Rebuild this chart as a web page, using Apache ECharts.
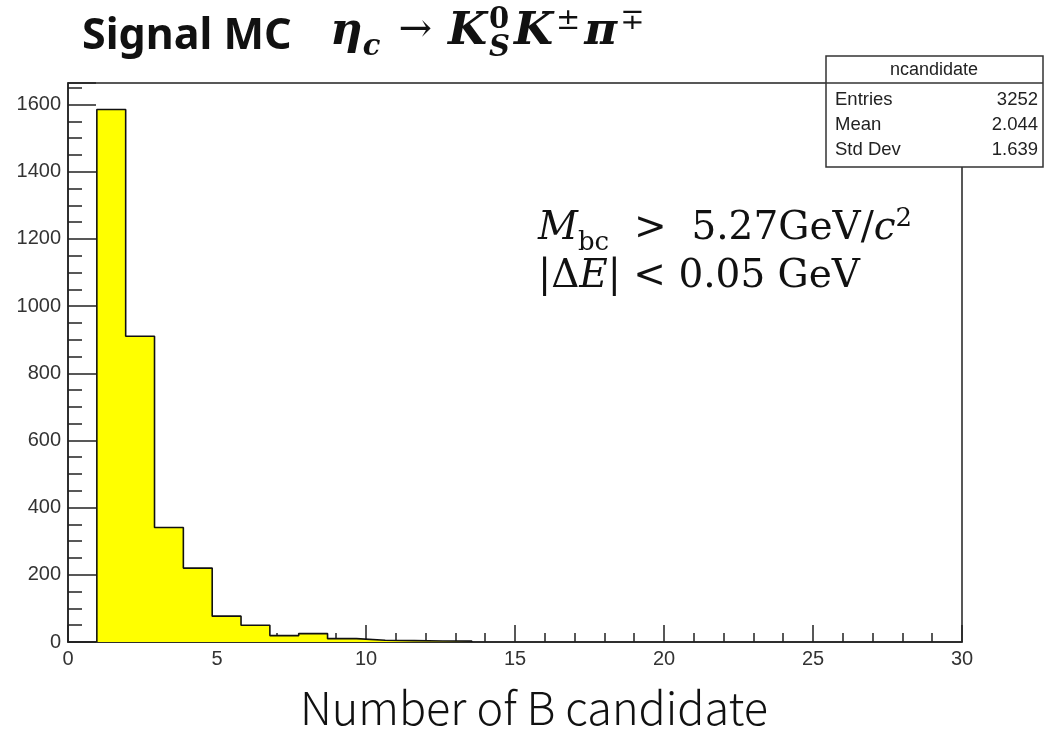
<!DOCTYPE html>
<html>
<head>
<meta charset="utf-8">
<script src="https://cdn.jsdelivr.net/npm/echarts@6/dist/echarts.min.js"></script>
<style>html,body{margin:0;padding:0;background:#fff}#c{width:1045px;height:731px}</style>
</head>
<body>
<div id="c"></div>
<script>
// ---- data ----
const xRange = [0, 30];
const nBins = 31;                         // histogram bins over xRange
const binIndex = [1, 2, 3, 4, 5, 6, 7, 8, 9, 10, 11, 12, 13];
const counts   = [1585, 910, 341, 220, 77, 50, 19, 25, 10, 5, 4, 3, 3];
const xTicks = [0, 5, 10, 15, 20, 25, 30];
const yTicks = [0, 200, 400, 600, 800, 1000, 1200, 1400, 1600];
const yMax = 1664;
const statsTitle = 'ncandidate';
const statsNames = ['Entries', 'Mean', 'Std Dev'];
const statsValues = ['3252', '2.044', '1.639'];

// ---- build step outline from bins ----
const binW = (xRange[1] - xRange[0]) / nBins;
const pts = [];
binIndex.forEach((b, i) => {
  const lo = xRange[0] + b * binW, hi = lo + binW;
  if (i === 0) pts.push([lo, 0]);
  pts.push([lo, counts[i]]);
  pts.push([hi, counts[i]]);
  if (i === binIndex.length - 1) pts.push([hi, 0]);
});

// ---- text layout helper (sequential pieces on a baseline) ----
const mctx = document.createElement('canvas').getContext('2d');
function layoutPieces(x0, baseY, pieces) {
  const out = [];
  let x = x0;
  pieces.forEach(p => {
    const items = Array.isArray(p) ? p : [p];
    let adv = 0;
    items.forEach(it => {
      mctx.font = it.font;
      const w = mctx.measureText(it.t).width;
      adv = Math.max(adv, w + (it.gap || 0) + (it.dx || 0));
      out.push({type: 'text', z: 102, x: x + (it.dx || 0), y: baseY + (it.dy || 0),
        style: {text: it.t, font: it.font, fill: '#111', align: 'left', verticalAlign: 'bottom'}});
    });
    x += adv;
  });
  return out;
}

const TSER = '"DejaVu Serif"';
const CUT = '"DejaVu Serif"';
const titleEls = layoutPieces(330, 55, [
  {t: 'η', font: 'bold italic 45px ' + TSER},
  {t: 'c', font: 'bold italic 29px ' + TSER, dy: 7, gap: 6},
  {t: '→', font: '40px ' + TSER, dy: -4, dx: 12, gap: 16},
  {t: 'K', font: 'bold italic 45px ' + TSER, gap: 2},
  [{t: '0', font: 'bold 29px ' + TSER, dy: -20, gap: 4}, {t: 'S', font: 'bold italic 29px ' + TSER, dy: 8, gap: 4}],
  {t: 'K', font: 'bold italic 45px ' + TSER, gap: 3},
  {t: '±', font: '29px ' + TSER, dy: -19, gap: 4},
  {t: 'π', font: 'bold italic 45px ' + TSER, gap: 3},
  {t: '∓', font: '29px ' + TSER, dy: -19}
]);
const cut1 = layoutPieces(538, 248, [
  {t: 'M', font: 'italic 39px ' + CUT},
  {t: 'bc', font: '26px ' + CUT, dy: 8},
  {t: '  >  5.27GeV/', font: '39px ' + CUT},
  {t: 'c', font: 'italic 39px ' + CUT},
  {t: '2', font: '26px ' + CUT, dy: -16}
]);
const cut2 = layoutPieces(538, 296, [
  {t: '|Δ', font: '39px ' + CUT},
  {t: 'E', font: 'italic 39px ' + CUT},
  {t: '| < 0.05 GeV', font: '39px ' + CUT}
]);

const chart = echarts.init(document.getElementById('c'), null, {renderer: 'canvas'});
const axisFont = {fontFamily: 'Liberation Sans', fontSize: 20, color: '#333'};
const G = {left: 68, right: 83, top: 83, bottom: 89};

chart.setOption({
  animation: false,
  grid: Object.assign({show: true, borderColor: '#222', borderWidth: 1.5, backgroundColor: '#fff'}, G),
  xAxis: {
    type: 'value', min: xRange[0], max: xRange[1], interval: 5,
    axisLine: {lineStyle: {color: '#222', width: 1.5}},
    axisTick: {inside: true, length: 17, lineStyle: {color: '#222', width: 1.5}},
    minorTick: {show: true, splitNumber: 5, length: 9, lineStyle: {color: '#222', width: 1.5}},
    splitLine: {show: false},
    axisLabel: Object.assign({margin: 7, formatter: v => xTicks.includes(v) ? String(v) : ''}, axisFont)
  },
  yAxis: {
    type: 'value', min: 0, max: yMax, interval: 200,
    axisLine: {lineStyle: {color: '#222', width: 1.5}},
    axisTick: {inside: true, length: 28, lineStyle: {color: '#222', width: 1.5}},
    minorTick: {show: true, splitNumber: 4, length: 14, lineStyle: {color: '#222', width: 1.5}},
    splitLine: {show: false},
    axisLabel: Object.assign({margin: 7, formatter: v => yTicks.includes(v) ? String(v) : ''}, axisFont)
  },
  series: [{
    type: 'line', data: pts, symbol: 'none', z: 3,
    lineStyle: {color: '#111', width: 1.6},
    areaStyle: {color: '#ffff00', opacity: 1, origin: 'start'}
  }],
  graphic: [
    // stats box
    {type: 'rect', z: 100, shape: {x: 826, y: 56, width: 217, height: 111},
     style: {fill: '#fff', stroke: '#333', lineWidth: 1.5}},
    {type: 'line', z: 101, shape: {x1: 826, y1: 83, x2: 1043, y2: 83}, style: {stroke: '#333', lineWidth: 1.5}},
    {type: 'text', z: 102, x: 934, y: 70, style: {text: statsTitle, fill: '#222', font: '18px "Liberation Sans"', align: 'center', verticalAlign: 'middle'}},
    ...statsNames.map((n, i) => ({type: 'text', z: 102, x: 835, y: 100 + i * 25,
      style: {text: n, fill: '#222', font: '18.5px "Liberation Sans"', align: 'left', verticalAlign: 'middle'}})),
    ...statsValues.map((n, i) => ({type: 'text', z: 102, x: 1038, y: 100 + i * 25,
      style: {text: n, fill: '#222', font: '18.5px "Liberation Sans"', align: 'right', verticalAlign: 'middle'}})),
    // titles
    {type: 'text', z: 102, x: 82, y: 37, style: {text: 'Signal MC', fill: '#111', font: 'bold 43px "Noto Sans"', align: 'left', verticalAlign: 'middle'}},
    ...titleEls, ...cut1, ...cut2,
    // x title
    {type: 'text', z: 102, x: 534, y: 708, style: {text: 'Number of B candidate', fill: '#111', font: '300 45px "Noto Sans CJK JP"', align: 'center', verticalAlign: 'middle'}}
  ]
});
</script>
</body>
</html>
